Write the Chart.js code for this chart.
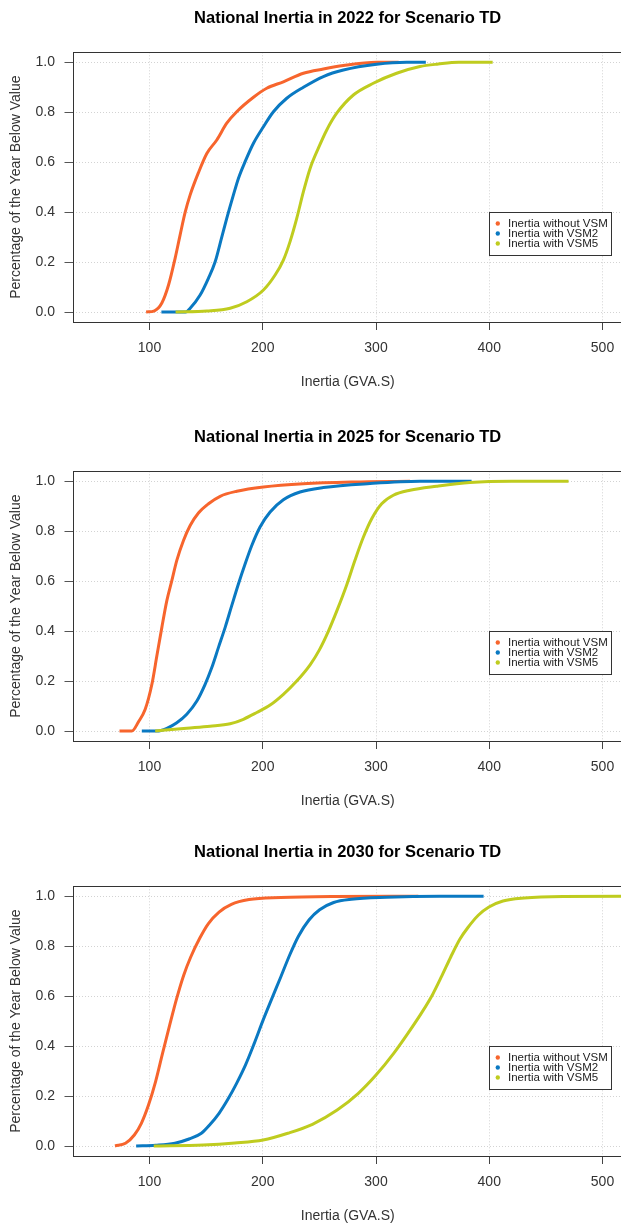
<!DOCTYPE html>
<html><head><meta charset="utf-8">
<script src="https://cdn.jsdelivr.net/npm/chart.js@4.4.1/dist/chart.umd.min.js"></script>
<style>
html,body{margin:0;padding:0;background:#fff;width:621px;height:1225px;overflow:hidden;position:relative}
.p{position:absolute;left:0;width:640px;height:410px}
canvas{display:block}
</style></head><body>
<div class="p" style="top:0px"><canvas id="c1" width="640" height="410"></canvas></div>
<div class="p" style="top:419px"><canvas id="c2" width="640" height="410"></canvas></div>
<div class="p" style="top:834px"><canvas id="c3" width="640" height="410"></canvas></div>
<script>
// ---- data ----
const seriesNames = ['Inertia without VSM', 'Inertia with VSM2', 'Inertia with VSM5'];
const seriesColors = ['#F7652D', '#0A79C2', '#BFCC1F'];
const xTicks = [100, 200, 300, 400, 500];
const yTicks = [0, 0.2, 0.4, 0.6, 0.8, 1.0];

// 2022
const x2022_noVSM = [97, 104.4, 110.9, 116.8, 122.6, 127, 131.5, 135.9, 143.2, 150.6, 159.4, 168.2, 177, 191.8, 203.5, 218.2, 235.9, 253.5, 271.2, 300.6, 320];
const y2022_noVSM = [0, 0.005, 0.036, 0.108, 0.215, 0.308, 0.40, 0.469, 0.558, 0.635, 0.689, 0.756, 0.802, 0.860, 0.896, 0.922, 0.956, 0.973, 0.987, 1.0, 1.0];
const x2022_VSM2 = [110.5, 132, 135.9, 144.7, 152, 157.9, 163.8, 168.2, 174.1, 178.5, 184.4, 191.8, 200.6, 209.4, 221.2, 235.9, 253.5, 271.2, 300.6, 327, 344];
const y2022_VSM2 = [0, 0, 0.015, 0.068, 0.135, 0.20, 0.30, 0.375, 0.469, 0.535, 0.602, 0.676, 0.742, 0.802, 0.856, 0.90, 0.943, 0.969, 0.992, 1.0, 1.0];
const x2022_VSM5 = [123, 150.6, 171.2, 185.9, 200.6, 210.9, 218.2, 224.1, 230, 235.9, 241.8, 249.1, 256.5, 265.3, 280, 297.6, 318.2, 338.8, 355, 373, 403];
const y2022_VSM5 = [0, 0.004, 0.015, 0.041, 0.088, 0.148, 0.208, 0.282, 0.375, 0.482, 0.575, 0.656, 0.729, 0.796, 0.869, 0.916, 0.956, 0.983, 0.993, 1.0, 1.0];

// 2025
const x2025_noVSM = [73.5, 84.4, 90.3, 96.2, 102.1, 106.5, 110.9, 115.3, 119.7, 124.1, 130, 135.9, 143.2, 152.1, 162.4, 177.1, 200.6, 235.9, 280, 330];
const y2025_noVSM = [0, 0, 0.037, 0.087, 0.187, 0.301, 0.415, 0.522, 0.602, 0.683, 0.763, 0.823, 0.873, 0.910, 0.940, 0.960, 0.977, 0.99, 0.997, 1.0];
const x2025_VSM2 = [93.2, 106.5, 115.3, 124.1, 132.9, 141.8, 149.1, 155, 160.9, 166.8, 172.6, 178.5, 184.4, 190.3, 197.6, 206.5, 218.2, 232.9, 253.5, 294.7, 338.8, 384.4];
const y2025_VSM2 = [0, 0, 0.011, 0.033, 0.067, 0.12, 0.187, 0.254, 0.335, 0.415, 0.502, 0.589, 0.669, 0.743, 0.817, 0.877, 0.926, 0.957, 0.975, 0.991, 1.0, 1.0];
const x2025_VSM5 = [105, 132.9, 153.5, 171.2, 182.9, 194.7, 206.5, 218.2, 230, 241.8, 250, 258, 266, 274.1, 281.5, 288.8, 296.2, 305, 315.3, 330, 353.5, 382.9, 420, 470];
const y2025_VSM5 = [0, 0.011, 0.019, 0.029, 0.047, 0.074, 0.104, 0.147, 0.20, 0.265, 0.325, 0.40, 0.488, 0.585, 0.685, 0.776, 0.85, 0.91, 0.944, 0.964, 0.98, 0.995, 1.0, 1.0];

// 2030
const x2030_noVSM = [69.5, 78.8, 86.6, 92.8, 99.1, 105.3, 111.5, 117.8, 124, 130.2, 136.4, 144.2, 152, 161.4, 172.3, 187.9, 215.9, 262.6, 337.4];
const y2030_noVSM = [0, 0.011, 0.044, 0.091, 0.164, 0.257, 0.371, 0.484, 0.591, 0.684, 0.757, 0.831, 0.891, 0.937, 0.968, 0.987, 0.995, 0.999, 1.0];
const x2030_VSM2 = [88.2, 105.3, 122.4, 134.9, 145.8, 153.6, 161.4, 169.2, 176.9, 184.7, 192.5, 200.3, 208.1, 215.9, 223.7, 231.5, 240.8, 250.2, 262.6, 278.2, 309.3, 356.1, 395];
const y2030_VSM2 = [0, 0.003, 0.011, 0.028, 0.051, 0.087, 0.131, 0.187, 0.251, 0.324, 0.411, 0.504, 0.591, 0.677, 0.764, 0.84, 0.905, 0.946, 0.975, 0.988, 0.996, 1.0, 1.0];
const x2030_VSM5 = [103.7, 147.4, 175.4, 200.3, 222.1, 243.9, 265.7, 284.4, 300, 315.6, 328, 340.5, 350, 358, 366, 374, 381, 390.3, 399.7, 412.1, 430.8, 465.1, 540];
const y2030_VSM5 = [0, 0.004, 0.012, 0.024, 0.051, 0.087, 0.144, 0.211, 0.284, 0.371, 0.450, 0.535, 0.607, 0.68, 0.757, 0.828, 0.874, 0.924, 0.957, 0.981, 0.993, 0.999, 1.0];

const legendAnchorX = 400;
const legendAnchorY = 0.4;

// ---- helpers ----
const FONT = '"Liberation Sans", Arial, sans-serif';
function pts(xs, ys) { return xs.map((v, i) => ({x: v, y: ys[i]})); }

const boxPlugin = {
  id: 'rbox',
  afterDatasetsDraw(chart) {
    const {ctx, chartArea: a} = chart;
    ctx.save();
    ctx.strokeStyle = '#333';
    ctx.lineWidth = 1;
    ctx.strokeRect(Math.round(a.left) + 0.5, Math.round(a.top) + 0.5, Math.round(a.right - a.left), Math.round(a.bottom - a.top));
    ctx.restore();
  }
};

const legendPlugin = {
  id: 'rlegend',
  afterDraw(chart) {
    const {ctx, scales: {x, y}} = chart;
    const left = Math.round(x.getPixelForValue(legendAnchorX)) + 0.5;
    const top = Math.round(y.getPixelForValue(legendAnchorY)) + 0.5;
    ctx.save();
    ctx.font = '11.5px ' + FONT;
    const tw = Math.max(...chart.data.datasets.map(d => ctx.measureText(d.label).width));
    const w = Math.round(18.5 + tw + 4), h = 43;
    ctx.fillStyle = '#fff';
    ctx.fillRect(left, top, w, h);
    ctx.strokeStyle = '#333';
    ctx.lineWidth = 1;
    ctx.strokeRect(left, top, w, h);
    chart.data.datasets.forEach((d, i) => {
      const cy = top + 11.5 + i * 10;
      ctx.fillStyle = d.borderColor;
      ctx.beginPath();
      ctx.arc(left + 8.3, cy - 0.5, 2.2, 0, Math.PI * 2);
      ctx.fill();
      ctx.fillStyle = '#222';
      ctx.textAlign = 'left';
      ctx.textBaseline = 'middle';
      ctx.fillText(d.label, left + 18.5, cy);
    });
    ctx.restore();
  }
};

function makeChart(id, year, series) {
  const datasets = series.map((s, i) => ({
    label: seriesNames[i],
    data: pts(s[0], s[1]),
    borderColor: seriesColors[i],
    backgroundColor: seriesColors[i],
    borderWidth: 3,
    pointRadius: 0,
    showLine: true,
    fill: false,
    cubicInterpolationMode: 'monotone',
    order: 2 - i
  }));
  return new Chart(document.getElementById(id), {
    type: 'scatter',
    data: {datasets},
    plugins: [boxPlugin, legendPlugin],
    options: {
      responsive: false,
      animation: false,
      devicePixelRatio: 1,
      layout: {padding: {left: 0, right: 17.1, top: 0, bottom: 0}},
      plugins: {
        legend: {display: false},
        tooltip: {enabled: false},
        title: {
          display: true,
          fullSize: false,
          text: 'National Inertia in ' + year + ' for Scenario TD',
          color: '#000',
          font: {family: FONT, size: 16.5, weight: 'bold', lineHeight: 1.2},
          padding: {top: 8.4, bottom: 24.1}
        }
      },
      scales: {
        x: {
          type: 'linear',
          min: 32,
          max: 518,
          afterBuildTicks: sc => { sc.ticks = xTicks.map(v => ({value: v})); },
          afterFit: sc => { sc.height = 88; },
          ticks: {
            color: '#333',
            font: {family: FONT, size: 14, lineHeight: 1.2},
            padding: 9.9,
            maxRotation: 0,
            autoSkip: false,
            callback: v => String(v)
          },
          grid: {color: '#d3d3d3', lineWidth: 1, drawTicks: true, tickLength: 8, tickColor: '#444', tickWidth: 1, tickBorderDash: []},
          border: {display: false, dash: [1, 2]},
          title: {
            display: true,
            text: 'Inertia (GVA.S)',
            color: '#333',
            font: {family: FONT, size: 14, lineHeight: 1.2},
            padding: {top: 0, bottom: 19.3}
          }
        },
        y: {
          type: 'linear',
          min: -0.04,
          max: 1.04,
          afterBuildTicks: sc => { sc.ticks = yTicks.map(v => ({value: v})); },
          afterFit: sc => { sc.width = 72.5; },
          ticks: {
            color: '#333',
            font: {family: FONT, size: 14, lineHeight: 1.2},
            padding: 9.5,
            autoSkip: false,
            callback: v => Number(v).toFixed(1)
          },
          grid: {color: '#d3d3d3', lineWidth: 1, drawTicks: true, tickLength: 8, tickColor: '#555', tickWidth: 1, tickBorderDash: []},
          border: {display: false, dash: [1, 2]},
          title: {
            display: true,
            text: 'Percentage of the Year Below Value',
            color: '#333',
            font: {family: FONT, size: 14, lineHeight: 1.2},
            padding: {top: 7.6, bottom: 0}
          }
        }
      }
    }
  });
}

makeChart('c1', 2022, [[x2022_noVSM, y2022_noVSM], [x2022_VSM2, y2022_VSM2], [x2022_VSM5, y2022_VSM5]]);
makeChart('c2', 2025, [[x2025_noVSM, y2025_noVSM], [x2025_VSM2, y2025_VSM2], [x2025_VSM5, y2025_VSM5]]);
makeChart('c3', 2030, [[x2030_noVSM, y2030_noVSM], [x2030_VSM2, y2030_VSM2], [x2030_VSM5, y2030_VSM5]]);
</script>
</body></html>
